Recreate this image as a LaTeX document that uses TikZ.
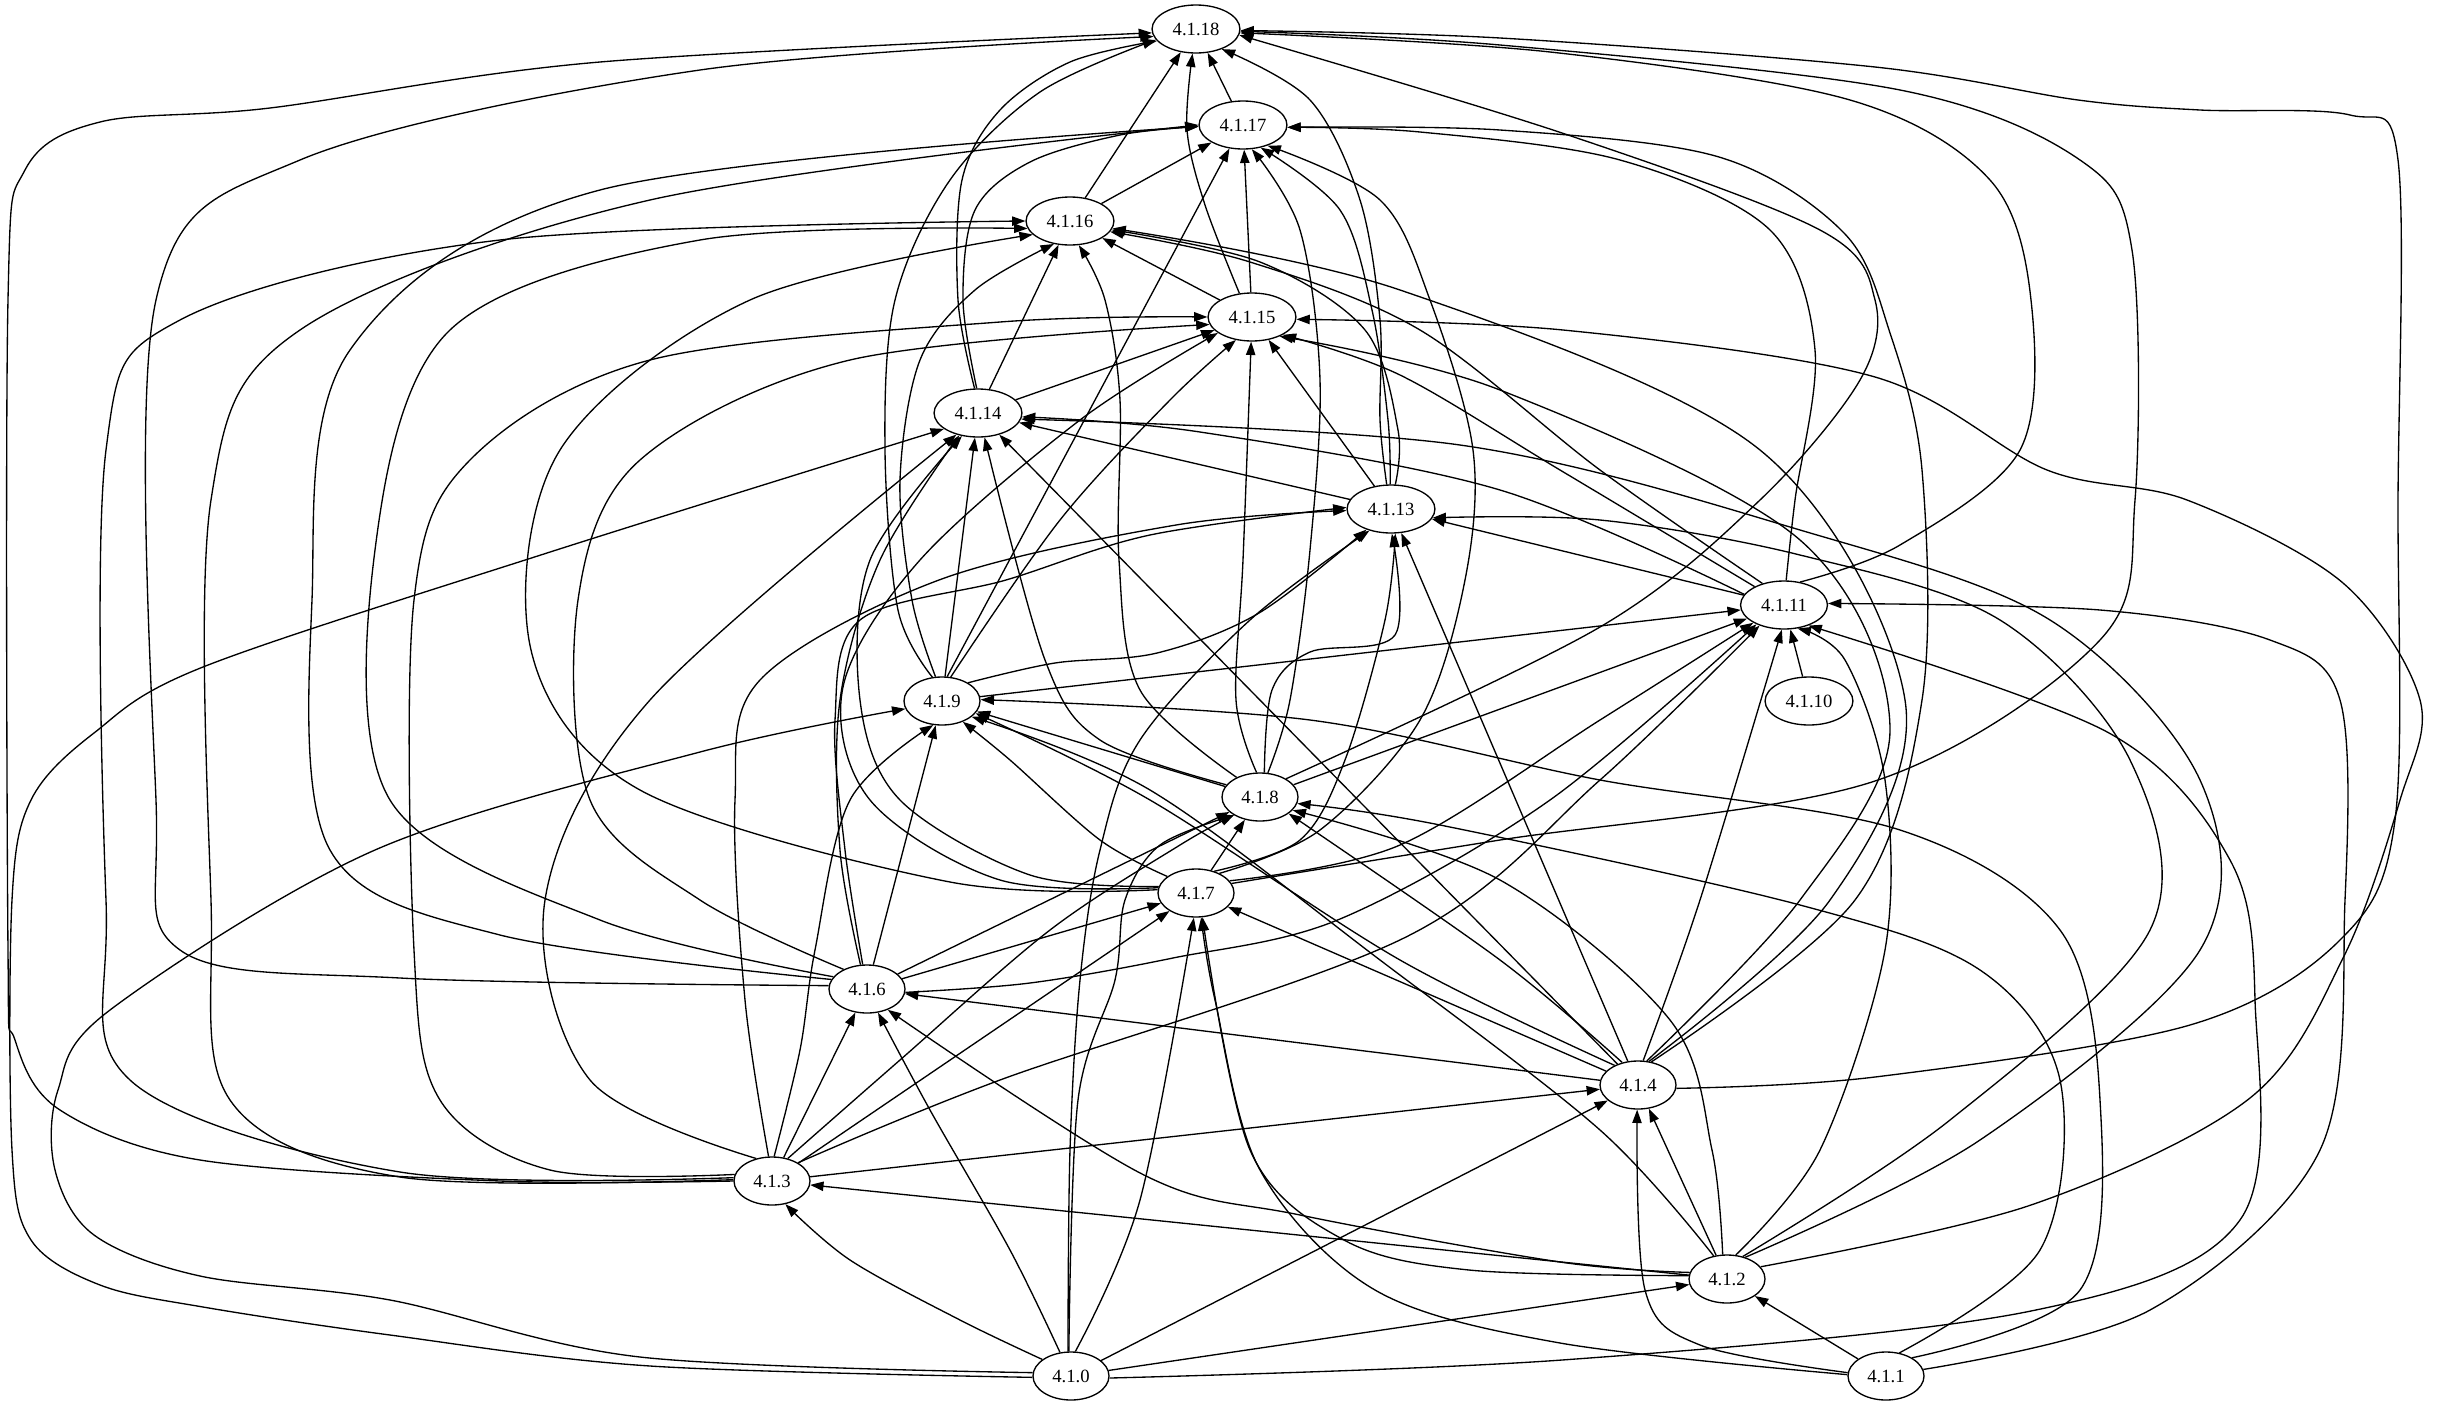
\documentclass[tikz,border=0pt]{standalone}
\usepackage{fontspec}
\setmainfont{Liberation Serif}
\usetikzlibrary{shapes.geometric,arrows.meta}

\tikzset{
  sec/.style={ellipse, draw, line width=1pt, minimum width=57pt, minimum height=36pt,
    inner xsep=5.8pt, inner ysep=0pt, font=\fontsize{14}{16}\selectfont},
  dep/.style={line width=1pt, -{Triangle[length=10pt,width=7pt]}},
}
% curved dependency edge through a list of points
\newcommand{\route}[1]{\draw[dep] plot[smooth, tension=0.55] coordinates {#1};}

\begin{document}
\begin{tikzpicture}[x=0.75pt, y=-0.75pt]
  \useasboundingbox (0,0) rectangle (2449,1403);
  % section nodes, one rank per row
  \node[sec] (n18) at (1196,29)   {4.1.18};
  \node[sec] (n17) at (1243,125)  {4.1.17};
  \node[sec] (n16) at (1070,221)  {4.1.16};
  \node[sec] (n15) at (1252,317)  {4.1.15};
  \node[sec] (n14) at (978,413)   {4.1.14};
  \node[sec] (n13) at (1391,509)  {4.1.13};
  \node[sec] (n11) at (1784,605)  {4.1.11};
  \node[sec] (n10) at (1809,701)  {4.1.10};
  \node[sec] (n9)  at (942,701)   {4.1.9};
  \node[sec] (n8)  at (1260,797)  {4.1.8};
  \node[sec] (n7)  at (1196,893)  {4.1.7};
  \node[sec] (n6)  at (867,989)   {4.1.6};
  \node[sec] (n4)  at (1638,1085) {4.1.4};
  \node[sec] (n3)  at (772,1181)  {4.1.3};
  \node[sec] (n2)  at (1727,1279) {4.1.2};
  \node[sec] (n0)  at (1071,1376) {4.1.0};
  \node[sec] (n1)  at (1886,1376) {4.1.1};

  % top ranks
  \draw[dep] (n17) -- (n18);
  \draw[dep] (n16) -- (n18);
  \draw[dep] (n16) -- (n17);
  \draw[dep] (n15) -- (n16);
  \draw[dep] (n15) -- (n17);
  \route{(n15.118) (1205,205) (1187,130) (n18.262)}
  \draw[dep] (n14) -- (n15);
  \draw[dep] (n14) -- (n16);
  \route{(n14.93) (963,300) (975,210) (1030,162) (1120,135) (n17.182)}
  \route{(n14.98) (958,300) (962,180) (1000,110) (1070,62) (n18.197)}
  \draw[dep] (n13) -- (n14);
  \draw[dep] (n13) -- (n15);
  \route{(n13.80) (1398,430) (1365,330) (1260,262) (n16.-12)}
  \route{(n13.92) (1388,420) (1372,310) (1340,210) (n17.-52)}
  \route{(n13.100) (1380,420) (1380,320) (1360,200) (1310,100) (n18.-38)}

  % 4.1.11 and 4.1.10
  \draw[dep] (n10) -- (n11);
  \draw[dep] (n11) -- (n13);
  \route{(n11.165) (1500,490) (1200,432) (n14.-5)}
  \route{(n11.148) (1560,470) (1400,375) (n15.-30)}
  \route{(n11.135) (1600,470) (1420,330) (1250,262) (n16.-15)}
  \route{(n11.85) (1795,500) (1815,350) (1770,230) (1620,160) (1420,132) (n17.-3)}
  \route{(n11.55) (1900,545) (2020,450) (2031,300) (1990,180) (1850,100) (1550,52) (n18.-5)}

  % 4.1.9
  \draw[dep] (n9) -- (n11);
  \route{(n9.35) (1055,663) (1157,653) (1259,613) (n13.220)}
  \draw[dep] (n9) -- (n14);
  \route{(n9.70) (1060,520) (1170,400) (n15.235)}
  \route{(n9.105) (912,600) (900,480) (920,360) (975,290) (n16.235)}
  \draw[dep] (n9.78) -- (n17.240);
  \route{(n9.112) (898,610) (885,450) (895,300) (950,180) (1040,92) (n18.195)}

  % 4.1.8
  \draw[dep] (n8) -- (n9);
  \draw[dep] (n8) -- (n11);
  \route{(n8.80) (1272,690) (1310,652) (1395,635) (n13.-88)}
  \route{(n8.160) (1100,740) (1045,660) (n14.-75)}
  \route{(n8.98) (1236,700) (1243,560) (n15.-92)}
  \route{(n8.140) (1140,690) (1119,560) (1120,400) (1105,300) (n16.-70)}
  \route{(n8.72) (1290,700) (1310,550) (1320,380) (1300,230) (n17.-70)}
  \route{(n8.35) (1600,627) (1760,500) (1860,380) (1875,300) (1820,230) (1562,133) (n18.-8)}

  % 4.1.7
  \draw[dep] (n7) -- (n8);
  \route{(n7.150) (1100,840) (1010,760) (n9.-45)}
  \route{(n7.20) (1400,845) (1600,720) (n11.210)}
  \route{(n7.50) (1300,840) (1345,760) (1385,620) (n13.-80)}
  \route{(n7.170) (1030,875) (900,800) (860,700) (870,560) (n14.235)}
  \route{(n7.172) (1000,880) (870,800) (843,687) (920,560) (1080,420) (n15.205)}
  \route{(n7.175) (950,882) (640,790) (531,650) (560,450) (750,300) (n16.200)}
  \route{(n7.40) (1320,830) (1420,720) (1465,580) (1473,450) (1430,300) (1380,200) (n17.-40)}
  \route{(n7.15) (1500,840) (1875,781) (2100,640) (2135,500) (2132,250) (2080,160) (1900,90) (1500,45) (n18.-3)}

  % 4.1.6
  \draw[dep] (n6) -- (n7);
  \draw[dep] (n6) -- (n8);
  \draw[dep] (n6) -- (n9);
  \route{(n6.-5) (1030,983) (1173,958) (1340,919) (1550,800) (n11.215)}
  \route{(n6.100) (845,850) (835,720) (860,620) (1006,580) (1150,535) (n13.178)}
  \route{(n6.105) (840,850) (840,700) (880,560) (n14.230)}
  \route{(n6.140) (700,900) (590,800) (578,600) (640,460) (850,360) (n15.190)}
  \route{(n6.160) (600,920) (390,800) (375,550) (450,330) (700,240) (n16.190)}
  \route{(n6.165) (500,935) (330,850) (312,600) (350,350) (600,190) (n17.182)}
  \route{(n6.175) (400,978) (180,950) (156,800) (156,300) (300,160) (700,70) (n18.190)}

  % 4.1.4
  \draw[dep] (n4) -- (n6);
  \draw[dep] (n4) -- (n7);
  \route{(n4.125) (1500,960) (n8.-30)}
  \route{(n4.140) (1400,960) (1150,800) (n9.-20)}
  \route{(n4.78) (1700,900) (n11.-95)}
  \draw[dep] (n4) -- (n13);
  \draw[dep] (n4) -- (n14);
  \route{(n4.70) (1800,900) (1890,730) (1800,540) (1500,390) (n15.-35)}
  \route{(n4.65) (1830,900) (1905,700) (1760,450) (1400,290) (n16.-10)}
  \route{(n4.60) (1855,900) (1922,700) (1922,470) (1890,333) (1844,233) (1719,157) (1500,130) (n17.-3)}
  \route{(n4.-5) (1875,1077) (2190,1025) (2340,940) (2395,820) (2398,500) (2398,160) (2350,115) (2200,110) (2078,100) (1875,67) (1500,38) (n18.-2)}

  % 4.1.3
  \draw[dep] (n3) -- (n4);
  \draw[dep] (n3) -- (n6);
  \draw[dep] (n3) -- (n7);
  \route{(n3.55) (900,1060) (1050,930) (1180,845) (n8.215)}
  \route{(n3.85) (800,1050) (815,950) (850,800) (n9.-110)}
  \route{(n3.35) (1000,1080) (1406,937) (1600,780) (n11.220)}
  \route{(n3.98) (745,1000) (735,800) (760,680) (939,580) (1176,525) (n13.182)}
  \route{(n3.125) (590,1080) (545,900) (650,700) (n14.225)}
  \route{(n3.170) (550,1170) (440,1100) (414,950) (414,600) (470,460) (650,360) (1000,322) (n15.180)}
  \route{(n3.175) (400,1172) (130,1080) (106,900) (106,450) (180,320) (500,240) (n16.180)}
  \route{(n3.178) (400,1177) (230,1100) (211,900) (211,500) (300,330) (650,200) (n17.180)}
  \route{(n3.180) (500,1181) (200,1160) (60,1110) (15,1040) (8,950) (8,300) (25,170) (100,122) (270,108) (600,62) (n18.185)}

  % 4.1.2
  \draw[dep] (n2) -- (n3);
  \draw[dep] (n2) -- (n4);
  \route{(n2.170) (1560,1262) (1300,1215) (1144,1175) (n6.-45)}
  \route{(n2.175) (1469,1270) (1344,1240) (1250,1150) (n7.-75)}
  \route{(n2.100) (1712,1150) (1670,1020) (1500,880) (n8.-22)}
  \route{(n2.120) (1600,1130) (1380,960) (1150,790) (n9.-28)}
  \route{(n2.70) (1820,1150) (1885,950) (1885,780) (1845,660) (n11.-60)}
  \route{(n2.55) (1950,1120) (2150,930) (2130,760) (2000,620) (1800,555) (1600,520) (n13.-12)}
  \route{(n2.50) (1980,1140) (2200,950) (2200,780) (2050,620) (1800,530) (1460,445) (n14.-8)}
  \route{(n2.20) (2031,1205) (2250,1098) (2344,956) (2400,800) (2420,700) (2343,583) (2187,500) (2047,470) (1875,377) (1563,330) (n15.-3)}

  % 4.1.1
  \draw[dep] (n1) -- (n2);
  \route{(n1.175) (1700,1345) (1645,1290) (n4.-92)}
  \route{(n1.178) (1560,1343) (1375,1290) (1260,1170) (1215,1000) (n7.-78)}
  \route{(n1.60) (2040,1250) (2060,1080) (1980,970) (1800,905) (1440,825) (n8.-10)}
  \route{(n1.35) (2080,1290) (2100,1100) (2060,930) (1900,830) (1600,780) (1310,720) (n9.2)}
  \route{(n1.10) (2150,1310) (2320,1150) (2345,900) (2340,700) (2270,640) (2100,610) (n11.2)}

  % 4.1.0
  \draw[dep] (n0) -- (n2);
  \draw[dep] (n0) -- (n4);
  \route{(n0.150) (960,1320) (850,1260) (n3.-60)}
  \route{(n0.115) (1010,1250) (930,1110) (n6.-65)}
  \route{(n0.80) (1140,1200) (n7.-95)}
  \route{(n0.95) (1078,1100) (1115,980) (1125,900) (1160,845) (n8.215)}
  \route{(n0.175) (640,1357) (390,1300) (200,1276) (94,1235) (55,1170) (58,1090) (110,1010) (375,850) (700,752) (n9.192)}
  \route{(n0.-3) (1562,1360) (2031,1311) (2240,1220) (2255,1000) (2230,860) (2109,733) (n11.-40)}
  \route{(n0.97) (1070,1150) (1080,980) (1100,850) (1140,740) (1250,620) (n13.225)}
  \route{(n0.182) (650,1366) (390,1335) (203,1307) (100,1285) (31,1240) (12,1150) (12,900) (31,800) (94,733) (203,667) (547,553) (n14.205)}
\end{tikzpicture}
\end{document}
